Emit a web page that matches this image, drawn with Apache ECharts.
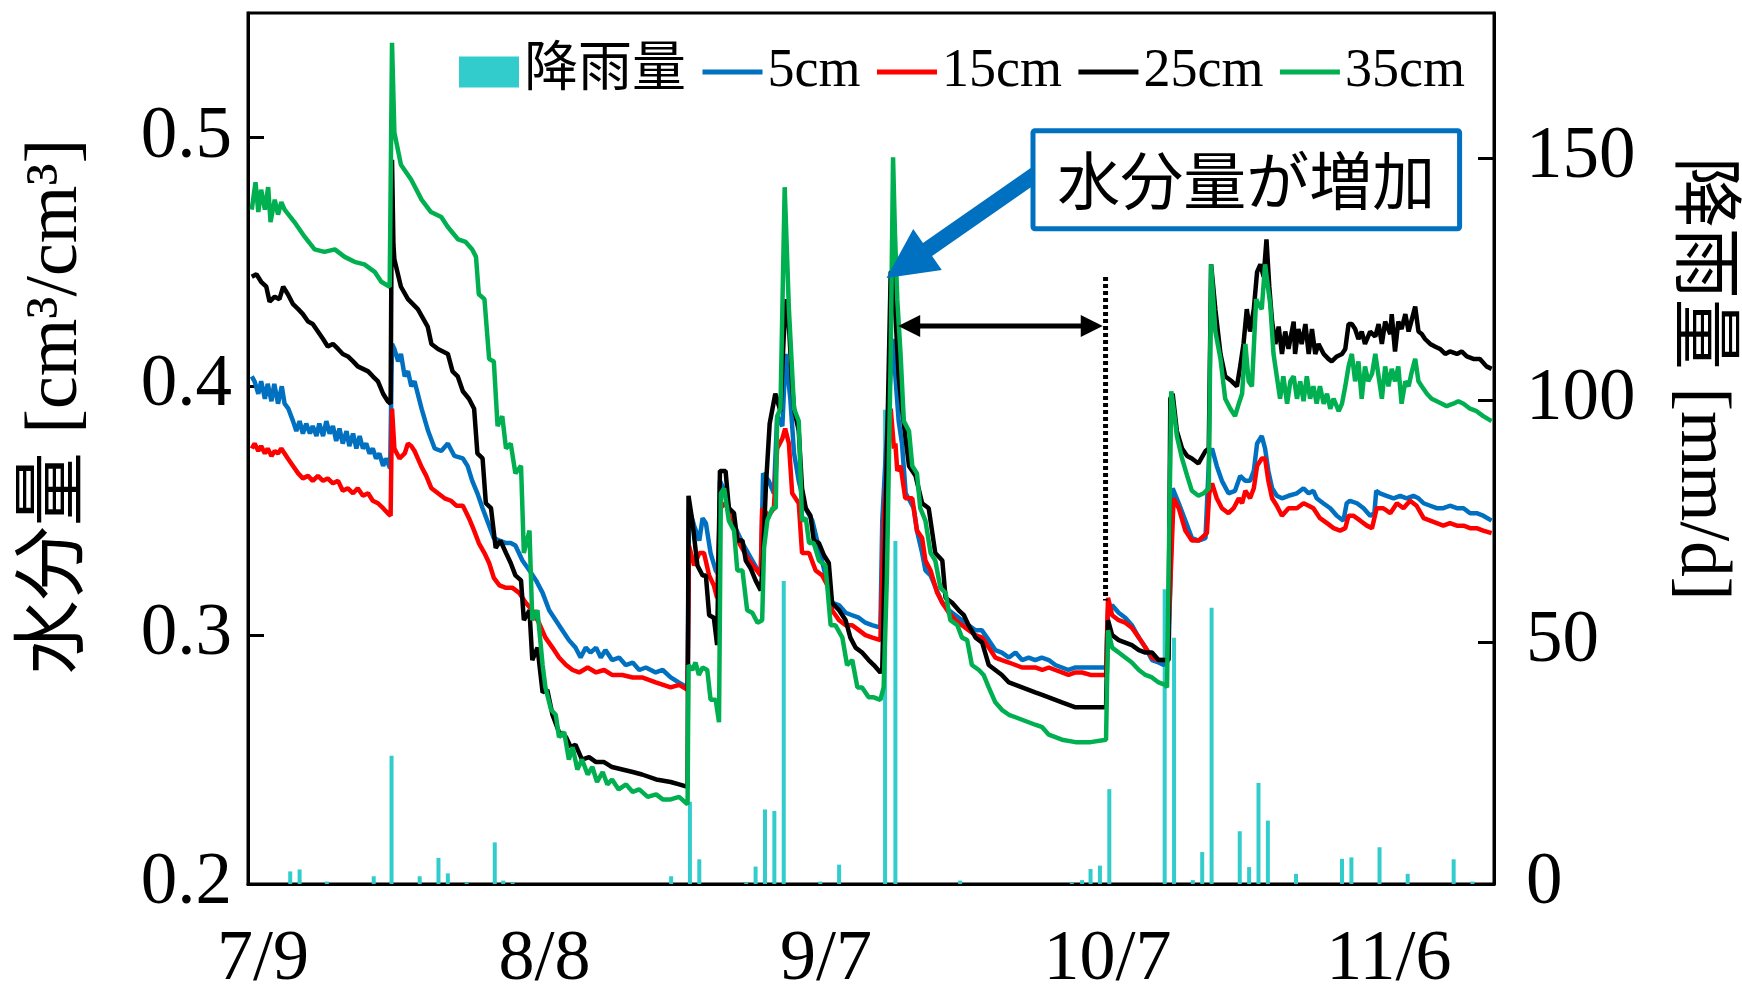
<!DOCTYPE html>
<html><head><meta charset="utf-8">
<script src="https://cdn.jsdelivr.net/npm/echarts@6/dist/echarts.min.js"></script>
<style>html,body{margin:0;padding:0;background:#fff}#c{width:1742px;height:989px}</style>
</head><body><div id="c"></div>
<script>
// ---- axis ticks / categories ----
const xTickDays = [0, 30, 60, 90, 120];
const xTickLabels = ['7/9', '8/8', '9/7', '10/7', '11/6'];
const seriesNames = ['降雨量', '5cm', '15cm', '25cm', '35cm'];

// ---- daily rainfall (day offset from 7/9, mm/d) ----
const rainDays = [2.9,3.9,6.8,11.8,13.7,16.7,18.7,19.7,21.7,24.7,25.6,26.6,43.5,45.5,46.5,51.5,52.5,53.5,54.5,55.5,59.4,61.4,66.3,67.4,74.3,86.2,87.3,88.2,89.2,90.2,96.1,97.1,99.1,100.1,101.1,104.1,105.1,106.1,107.1,110.1,115.0,116.0,119.0,122.0,126.9,128.9];
const rainValues = [2.6,3.0,0.5,1.6,26.5,1.6,5.4,2.2,0.3,8.6,0.7,0.3,1.6,17.0,5.1,0.3,3.6,15.4,15.1,62.6,0.5,4.0,98,70.9,0.7,0.3,0.8,3.1,3.8,19.6,60.9,50.9,0.8,6.6,57.1,10.9,3.5,20.9,13.1,2.1,5.2,5.5,7.6,2.1,5.1,0.5];

// ---- soil moisture [day, cm3/cm3] ----
const soil5cm = [[-1.2,0.404],[-0.9,0.402],[-0.5,0.397],[-0.2,0.402],[0.2,0.395],[0.5,0.401],[0.9,0.394],[1.2,0.401],[1.6,0.393],[2.0,0.400],[2.3,0.393],[2.7,0.391],[3.2,0.386],[3.55,0.382],[3.9,0.386],[4.25,0.381],[4.6,0.385],[5.0,0.381],[5.3,0.384],[5.7,0.380],[6.0,0.385],[6.4,0.380],[6.75,0.386],[7.1,0.381],[7.45,0.384],[7.8,0.378],[8.15,0.383],[8.5,0.377],[8.9,0.382],[9.2,0.376],[9.6,0.381],[9.95,0.375],[10.3,0.380],[10.65,0.375],[11.0,0.377],[11.35,0.373],[11.7,0.375],[12.05,0.371],[12.4,0.373],[12.8,0.368],[13.1,0.371],[13.55,0.367],[13.75,0.417],[14.0,0.415],[14.4,0.410],[14.7,0.413],[15.1,0.404],[15.45,0.406],[15.8,0.400],[16.15,0.402],[16.9,0.391],[17.6,0.382],[18.3,0.375],[19.0,0.374],[19.7,0.377],[20.4,0.372],[21.3,0.371],[21.8,0.368],[22.3,0.362],[22.85,0.357],[23.4,0.351],[24.1,0.344],[24.6,0.339],[25.2,0.338],[25.9,0.337],[26.4,0.337],[26.9,0.336],[27.65,0.330],[28.4,0.326],[29.1,0.322],[29.8,0.317],[30.5,0.310],[31.2,0.306],[31.9,0.302],[32.6,0.298],[33.3,0.295],[33.85,0.291],[34.4,0.295],[34.9,0.293],[35.5,0.295],[36.0,0.291],[36.5,0.294],[37.2,0.290],[37.95,0.291],[38.65,0.288],[39.4,0.289],[40.1,0.286],[40.8,0.287],[41.85,0.285],[42.6,0.286],[43.45,0.283],[44.3,0.281],[45.25,0.279],[45.4,0.351],[45.95,0.344],[46.5,0.338],[46.85,0.347],[47.2,0.345],[47.7,0.333],[48.25,0.326],[48.6,0.324],[48.7,0.362],[49.3,0.357],[50.0,0.346],[51.1,0.337],[52.15,0.330],[53.05,0.324],[53.3,0.365],[53.9,0.362],[54.45,0.357],[54.8,0.388],[55.35,0.384],[55.7,0.413],[56.2,0.395],[56.6,0.373],[57.1,0.362],[57.8,0.351],[58.55,0.346],[59.25,0.335],[59.95,0.324],[60.7,0.313],[61.4,0.312],[62.1,0.309],[62.8,0.308],[63.5,0.307],[64.2,0.305],[64.9,0.304],[65.8,0.303],[66.0,0.346],[66.35,0.371],[67.1,0.419],[67.4,0.404],[67.75,0.386],[68.1,0.377],[68.5,0.357],[68.8,0.355],[69.35,0.351],[69.7,0.342],[70.25,0.333],[70.6,0.326],[71.15,0.324],[71.7,0.319],[72.4,0.313],[73.1,0.310],[73.8,0.308],[74.5,0.306],[75.2,0.304],[75.9,0.302],[76.6,0.302],[77.35,0.298],[78.05,0.294],[78.75,0.293],[79.5,0.291],[80.2,0.293],[80.9,0.290],[81.6,0.291],[82.3,0.290],[83.0,0.291],[83.75,0.290],[84.45,0.288],[85.15,0.287],[85.85,0.286],[86.6,0.287],[87.3,0.287],[88.2,0.287],[89.85,0.287],[90.06,0.310],[90.5,0.312],[91.2,0.309],[91.9,0.307],[92.6,0.304],[93.35,0.299],[94.05,0.295],[94.75,0.290],[95.45,0.289],[96.0,0.288],[96.5,0.290],[96.95,0.359],[97.6,0.353],[98.3,0.346],[99.0,0.339],[99.7,0.338],[100.45,0.339],[100.85,0.373],[101.15,0.375],[101.65,0.368],[102.2,0.362],[102.9,0.357],[103.6,0.358],[104.15,0.364],[104.7,0.362],[105.2,0.362],[105.6,0.366],[105.95,0.377],[106.45,0.380],[106.8,0.375],[107.15,0.366],[107.55,0.359],[108.05,0.356],[108.6,0.355],[109.3,0.356],[110.2,0.357],[110.9,0.359],[111.45,0.357],[111.95,0.358],[112.3,0.355],[113.0,0.353],[113.75,0.351],[114.45,0.348],[115.15,0.346],[115.5,0.353],[115.85,0.354],[116.6,0.353],[117.3,0.351],[118.0,0.348],[118.45,0.349],[118.65,0.358],[119.05,0.357],[119.75,0.356],[120.5,0.355],[121.2,0.356],[121.9,0.355],[122.6,0.356],[123.15,0.355],[123.7,0.353],[124.4,0.352],[125.1,0.351],[125.8,0.351],[126.5,0.352],[127.25,0.351],[127.95,0.351],[128.65,0.349],[129.35,0.349],[130.05,0.348],[130.95,0.346]];

const soil15cm = [[-1.2,0.375],[-0.9,0.377],[-0.5,0.374],[-0.2,0.376],[0.2,0.373],[0.5,0.375],[0.9,0.372],[1.25,0.374],[1.6,0.373],[1.95,0.375],[2.3,0.373],[2.65,0.371],[3.2,0.368],[3.75,0.365],[4.25,0.363],[4.8,0.364],[5.3,0.362],[5.85,0.364],[6.4,0.362],[6.9,0.363],[7.45,0.361],[8.0,0.362],[8.5,0.358],[9.05,0.359],[9.6,0.357],[10.1,0.359],[10.65,0.356],[11.2,0.357],[11.7,0.354],[12.25,0.353],[12.8,0.351],[13.3,0.349],[13.6,0.348],[13.75,0.391],[14.0,0.375],[14.55,0.371],[15.1,0.373],[15.45,0.377],[15.8,0.376],[16.15,0.374],[16.5,0.371],[16.85,0.368],[17.4,0.364],[17.95,0.359],[18.65,0.357],[19.35,0.355],[20.05,0.354],[20.6,0.352],[21.3,0.352],[21.95,0.347],[22.5,0.342],[23.0,0.337],[23.6,0.333],[24.1,0.329],[24.6,0.323],[25.2,0.320],[25.9,0.319],[26.6,0.319],[27.3,0.317],[28.0,0.313],[28.7,0.310],[29.4,0.305],[30.1,0.299],[30.85,0.295],[31.55,0.291],[32.3,0.288],[33.0,0.286],[33.7,0.285],[34.6,0.287],[35.5,0.285],[36.35,0.286],[37.2,0.284],[38.3,0.284],[39.4,0.283],[40.4,0.283],[41.85,0.281],[43.45,0.279],[44.35,0.280],[45.25,0.278],[45.4,0.336],[45.95,0.328],[46.5,0.333],[47.0,0.333],[47.55,0.324],[48.05,0.320],[48.4,0.315],[48.7,0.351],[49.3,0.353],[50.0,0.348],[50.75,0.337],[51.8,0.330],[53.05,0.324],[53.2,0.351],[53.9,0.348],[54.45,0.351],[54.8,0.375],[55.35,0.379],[55.65,0.383],[56.05,0.377],[56.4,0.357],[57.1,0.353],[57.45,0.333],[58.2,0.333],[58.9,0.326],[59.6,0.324],[60.3,0.319],[60.65,0.310],[61.4,0.306],[62.1,0.304],[62.8,0.304],[63.5,0.302],[64.2,0.300],[64.95,0.299],[65.8,0.298],[66.0,0.324],[66.15,0.346],[66.9,0.391],[67.25,0.375],[67.4,0.377],[67.6,0.366],[67.95,0.368],[68.45,0.355],[69.2,0.355],[69.7,0.342],[70.25,0.339],[70.6,0.330],[71.15,0.326],[71.85,0.317],[72.4,0.313],[73.1,0.309],[73.8,0.306],[74.5,0.304],[75.2,0.302],[75.95,0.300],[76.65,0.299],[77.35,0.295],[78.05,0.291],[78.75,0.290],[79.5,0.289],[80.2,0.288],[80.9,0.287],[81.6,0.287],[82.3,0.287],[83.05,0.286],[83.75,0.287],[84.45,0.286],[85.15,0.285],[85.85,0.284],[86.6,0.285],[87.3,0.285],[88.2,0.284],[89.85,0.284],[90.06,0.315],[90.5,0.308],[91.2,0.306],[91.9,0.305],[92.6,0.303],[93.35,0.299],[94.05,0.295],[94.75,0.291],[95.45,0.290],[96.0,0.290],[96.4,0.290],[97.05,0.355],[97.6,0.351],[98.3,0.342],[99.0,0.338],[99.7,0.338],[100.6,0.341],[100.85,0.357],[101.15,0.361],[101.65,0.355],[102.2,0.351],[102.9,0.349],[103.45,0.351],[104.0,0.355],[104.35,0.353],[104.7,0.358],[105.2,0.355],[105.6,0.359],[105.95,0.368],[106.45,0.371],[106.8,0.371],[107.15,0.362],[107.55,0.355],[108.05,0.352],[108.6,0.348],[109.3,0.351],[110.2,0.351],[110.9,0.353],[111.45,0.352],[111.95,0.351],[112.65,0.347],[113.4,0.345],[114.1,0.343],[114.8,0.342],[115.35,0.343],[115.7,0.348],[116.2,0.348],[116.95,0.346],[117.65,0.344],[118.2,0.343],[118.7,0.351],[119.4,0.351],[120.15,0.349],[120.85,0.353],[121.55,0.351],[122.25,0.354],[122.95,0.352],[123.7,0.347],[124.4,0.346],[125.1,0.345],[125.8,0.344],[126.5,0.345],[127.25,0.344],[127.95,0.344],[128.65,0.343],[129.35,0.343],[130.05,0.342],[130.95,0.341]];

const soil25cm = [[-1.2,0.444],[-0.7,0.445],[-0.2,0.442],[0.35,0.440],[0.7,0.434],[1.25,0.436],[1.75,0.435],[2.15,0.440],[2.65,0.437],[3.2,0.433],[3.75,0.431],[4.25,0.429],[4.8,0.426],[5.3,0.425],[5.85,0.422],[6.4,0.419],[6.9,0.416],[7.45,0.417],[8.0,0.415],[8.5,0.413],[9.05,0.412],[9.6,0.410],[10.1,0.408],[10.65,0.407],[11.2,0.406],[11.7,0.404],[12.25,0.402],[12.8,0.397],[13.3,0.394],[13.6,0.393],[13.75,0.491],[13.9,0.457],[14.0,0.451],[14.7,0.440],[15.45,0.435],[16.5,0.431],[17.55,0.424],[17.95,0.417],[18.65,0.415],[19.7,0.413],[20.2,0.406],[20.75,0.404],[21.3,0.398],[21.95,0.395],[22.5,0.391],[22.85,0.373],[23.4,0.371],[23.75,0.353],[24.3,0.351],[24.8,0.335],[25.3,0.338],[25.9,0.333],[26.4,0.329],[26.9,0.324],[27.5,0.322],[27.8,0.306],[28.4,0.310],[28.7,0.290],[29.25,0.295],[29.8,0.277],[30.3,0.278],[30.85,0.268],[31.55,0.261],[32.3,0.259],[32.8,0.255],[33.3,0.256],[34.0,0.250],[34.75,0.251],[35.5,0.249],[36.35,0.249],[37.2,0.247],[38.3,0.246],[39.4,0.245],[40.4,0.244],[41.9,0.242],[43.45,0.241],[44.35,0.240],[45.25,0.239],[45.35,0.356],[45.75,0.346],[46.3,0.328],[46.85,0.324],[47.2,0.324],[47.55,0.308],[48.05,0.307],[48.4,0.296],[48.7,0.366],[49.3,0.366],[49.65,0.351],[50.2,0.349],[50.55,0.338],[51.1,0.338],[51.45,0.330],[51.95,0.327],[52.5,0.322],[53.05,0.318],[53.25,0.327],[53.6,0.360],[54.0,0.385],[54.6,0.397],[55.15,0.390],[55.5,0.420],[55.8,0.435],[56.05,0.425],[56.4,0.400],[56.6,0.391],[57.1,0.382],[57.45,0.359],[57.85,0.351],[58.35,0.348],[58.7,0.338],[59.25,0.337],[59.8,0.332],[60.3,0.329],[60.65,0.313],[61.4,0.310],[62.1,0.306],[62.6,0.299],[63.15,0.295],[63.85,0.293],[64.55,0.290],[65.1,0.288],[65.8,0.285],[66.0,0.286],[66.35,0.346],[66.9,0.446],[67.25,0.446],[67.4,0.429],[67.75,0.404],[68.1,0.391],[68.85,0.368],[69.55,0.364],[70.25,0.353],[70.95,0.351],[71.65,0.333],[72.4,0.330],[72.75,0.315],[73.45,0.313],[74.15,0.310],[74.7,0.308],[75.2,0.304],[75.95,0.299],[76.65,0.297],[77.35,0.288],[78.05,0.286],[78.75,0.284],[79.5,0.281],[80.2,0.280],[80.9,0.279],[81.6,0.278],[82.3,0.277],[83.05,0.276],[83.75,0.275],[84.45,0.274],[85.15,0.273],[86.6,0.271],[88.2,0.271],[89.85,0.271],[90.06,0.306],[90.5,0.300],[91.2,0.298],[91.9,0.297],[92.6,0.296],[93.35,0.294],[94.05,0.293],[94.75,0.293],[95.45,0.290],[96.5,0.290],[96.7,0.395],[96.95,0.397],[97.4,0.382],[97.95,0.375],[98.5,0.372],[99.0,0.371],[99.7,0.369],[100.45,0.374],[100.8,0.375],[101.05,0.449],[101.5,0.431],[102.05,0.413],[102.55,0.404],[103.25,0.402],[103.8,0.400],[104.15,0.408],[104.5,0.417],[104.85,0.431],[105.2,0.422],[105.6,0.431],[105.95,0.446],[106.3,0.449],[106.65,0.444],[106.95,0.459],[107.25,0.440],[107.55,0.426],[107.9,0.417],[108.25,0.424],[108.6,0.413],[108.95,0.422],[109.3,0.415],[109.85,0.426],[110.0,0.413],[110.35,0.423],[110.7,0.417],[111.1,0.425],[111.45,0.413],[111.8,0.423],[112.15,0.413],[112.5,0.417],[113.05,0.413],[113.55,0.411],[113.9,0.410],[114.45,0.412],[115.0,0.413],[115.35,0.415],[115.7,0.425],[116.05,0.425],[116.4,0.423],[116.75,0.419],[117.1,0.422],[117.45,0.417],[118.0,0.422],[118.55,0.420],[118.9,0.425],[119.25,0.417],[119.6,0.426],[120.15,0.421],[120.3,0.429],[120.65,0.414],[121.0,0.426],[121.35,0.423],[121.75,0.429],[122.1,0.422],[122.45,0.427],[122.8,0.432],[123.15,0.422],[123.5,0.421],[123.85,0.419],[124.4,0.417],[124.9,0.416],[125.45,0.415],[126.0,0.413],[126.5,0.414],[127.25,0.413],[127.75,0.414],[128.3,0.412],[129.0,0.411],[129.7,0.411],[130.4,0.408],[130.95,0.407]];

const soil35cm = [[-1.2,0.471],[-0.8,0.482],[-0.5,0.470],[-0.2,0.479],[0.2,0.471],[0.55,0.480],[0.8,0.466],[1.25,0.475],[1.6,0.469],[1.95,0.474],[2.3,0.471],[3.35,0.466],[4.45,0.460],[5.5,0.455],[6.55,0.454],[7.65,0.455],[8.7,0.452],[9.75,0.450],[10.8,0.449],[11.9,0.446],[12.6,0.442],[13.5,0.440],[13.6,0.440],[13.75,0.538],[14.0,0.502],[14.7,0.489],[15.8,0.483],[16.9,0.475],[17.9,0.470],[19.0,0.468],[19.7,0.464],[20.8,0.459],[21.6,0.458],[22.3,0.455],[22.7,0.452],[23.0,0.437],[23.6,0.435],[24.1,0.411],[24.6,0.410],[25.0,0.384],[25.5,0.388],[25.9,0.375],[26.4,0.377],[26.9,0.365],[27.5,0.368],[27.8,0.333],[28.4,0.342],[28.7,0.306],[29.25,0.310],[29.8,0.288],[30.1,0.279],[30.7,0.270],[31.2,0.268],[31.55,0.259],[32.1,0.261],[32.6,0.250],[33.0,0.255],[33.5,0.246],[34.0,0.250],[34.6,0.244],[35.1,0.247],[35.6,0.241],[36.2,0.245],[36.7,0.240],[37.2,0.242],[37.9,0.238],[38.7,0.240],[39.4,0.237],[40.1,0.238],[41.0,0.235],[41.9,0.236],[42.6,0.234],[43.45,0.234],[44.35,0.235],[45.25,0.232],[45.35,0.288],[45.75,0.286],[46.1,0.289],[46.45,0.284],[46.85,0.287],[47.35,0.286],[47.7,0.274],[48.25,0.274],[48.6,0.265],[48.8,0.357],[49.15,0.359],[49.65,0.346],[50.2,0.342],[50.55,0.326],[51.1,0.326],[51.6,0.310],[52.15,0.309],[52.7,0.305],[53.2,0.306],[53.4,0.335],[53.75,0.346],[54.3,0.351],[54.65,0.351],[54.8,0.388],[55.15,0.391],[55.6,0.480],[56.05,0.431],[56.6,0.391],[57.1,0.386],[57.45,0.346],[57.85,0.347],[58.2,0.337],[58.7,0.337],[59.25,0.330],[59.95,0.328],[60.5,0.304],[61.0,0.304],[61.75,0.299],[62.25,0.288],[62.8,0.290],[63.35,0.279],[63.85,0.279],[64.55,0.275],[65.1,0.275],[65.8,0.274],[66.15,0.279],[66.5,0.324],[66.9,0.413],[67.15,0.492],[67.35,0.462],[67.6,0.435],[67.95,0.413],[68.3,0.386],[68.85,0.382],[69.2,0.368],[69.7,0.365],[70.05,0.351],[70.6,0.346],[71.15,0.333],[71.65,0.330],[72.2,0.319],[72.75,0.317],[73.25,0.306],[74.0,0.304],[74.5,0.299],[75.05,0.298],[75.55,0.288],[76.3,0.286],[76.8,0.284],[77.35,0.279],[78.05,0.273],[78.75,0.270],[79.5,0.268],[80.2,0.267],[80.9,0.266],[81.6,0.265],[82.3,0.264],[83.05,0.263],[83.75,0.260],[84.45,0.259],[85.15,0.258],[86.6,0.257],[88.2,0.257],[89.85,0.258],[90.06,0.302],[90.5,0.295],[91.2,0.293],[91.9,0.291],[92.6,0.289],[93.35,0.286],[94.05,0.284],[94.75,0.283],[95.45,0.281],[96.15,0.280],[96.35,0.279],[96.8,0.398],[97.05,0.391],[97.4,0.380],[97.95,0.371],[98.5,0.364],[99.0,0.358],[99.7,0.356],[100.25,0.357],[100.8,0.359],[101.05,0.449],[101.5,0.422],[102.05,0.411],[102.55,0.395],[103.1,0.391],[103.6,0.388],[104.0,0.393],[104.35,0.397],[104.7,0.417],[105.05,0.402],[105.4,0.400],[105.85,0.435],[106.1,0.433],[106.45,0.431],[106.8,0.449],[107.1,0.440],[107.35,0.433],[107.7,0.413],[108.05,0.404],[108.4,0.395],[108.75,0.404],[109.15,0.393],[109.5,0.402],[109.85,0.404],[110.2,0.395],[110.55,0.402],[110.9,0.394],[111.25,0.404],[111.6,0.395],[111.95,0.400],[112.3,0.393],[112.65,0.400],[113.05,0.393],[113.4,0.397],[113.75,0.391],[114.1,0.395],[114.65,0.390],[115.0,0.393],[115.35,0.400],[115.7,0.408],[116.05,0.413],[116.4,0.402],[116.75,0.410],[117.1,0.395],[117.45,0.408],[117.8,0.402],[118.2,0.405],[118.55,0.413],[118.9,0.404],[119.25,0.395],[119.6,0.408],[119.95,0.400],[120.3,0.407],[120.65,0.402],[121.0,0.408],[121.35,0.393],[121.75,0.402],[122.1,0.400],[122.45,0.406],[122.8,0.411],[123.15,0.402],[123.5,0.400],[124.05,0.397],[124.55,0.395],[125.1,0.394],[125.65,0.393],[126.15,0.392],[126.85,0.393],[127.4,0.394],[127.95,0.393],[128.65,0.391],[129.35,0.390],[130.05,0.388],[130.95,0.386]];

const SERIF = "'Liberation Serif','Times New Roman','Noto Sans CJK JP',serif";
const JP = "'Noto Sans CJK JP','Noto Sans CJK SC',sans-serif";
const lineColors = ['#0070C0', '#FF0000', '#000000', '#00B050'];
const soilData = [soil5cm, soil15cm, soil25cm, soil35cm];
const LINE_ICON = 'path://M0,0 L60,0 L60,5 L0,5 Z';

const chart = echarts.init(document.getElementById('c'), null, {renderer: 'canvas'});

const option = {
  animation: false,
  backgroundColor: '#ffffff',
  textStyle: {fontFamily: SERIF, color: '#000'},
  grid: {left: 248, right: 248, top: 13, bottom: 105, show: true, borderColor: '#000', borderWidth: 3,
    containLabel: false, outerBoundsMode: 'none'},
  legend: {
    left: 454, top: 40, itemWidth: 60, itemHeight: 31, itemGap: 16.5, selectedMode: false,
    textStyle: {fontSize: 54, fontFamily: SERIF, color: '#000'},
    data: [{name: seriesNames[0], icon: 'rect'}].concat(seriesNames.slice(1).map(function (n) {
      return {name: n, icon: LINE_ICON};
    }))
  },
  xAxis: {
    type: 'value', min: -1.6, max: 131.2,
    axisLine: {show: true, onZero: false, lineStyle: {color: '#000', width: 3}},
    axisTick: {show: false},
    splitLine: {show: false},
    axisLabel: {
      customValues: xTickDays,
      formatter: function (v) { const i = xTickDays.indexOf(Math.round(v)); return i >= 0 ? xTickLabels[i] : ''; },
      color: '#000', fontSize: 72, fontFamily: SERIF, margin: 40
    }
  },
  yAxis: [
    {
      type: 'value', min: 0.2, max: 0.55, interval: 0.1, position: 'left',
      name: '水分量 [cm³/cm³]', nameLocation: 'middle', nameGap: 154,
      nameTextStyle: {fontSize: 74, fontFamily: SERIF, color: '#000', padding: [0, 0, 0, 84]},
      axisLine: {show: true, onZero: false, lineStyle: {color: '#000', width: 3}},
      axisTick: {show: true, inside: true, length: 16, lineStyle: {color: '#000', width: 3}},
      axisLabel: {showMaxLabel: false, formatter: function (v) { return v.toFixed(1); }, color: '#000', fontSize: 73, fontFamily: SERIF, margin: 16},
      splitLine: {show: false}
    },
    {
      type: 'value', min: 0, max: 180, interval: 50, position: 'right',
      name: '降雨量 [mm/d]', nameLocation: 'middle', nameGap: 171, nameRotate: -90,
      nameTextStyle: {fontSize: 71, fontFamily: SERIF, color: '#000', padding: [0, 140, 0, 0]},
      axisLine: {show: true, onZero: false, lineStyle: {color: '#000', width: 3}},
      axisTick: {show: true, inside: true, length: 16, lineStyle: {color: '#000', width: 3}},
      axisLabel: {showMaxLabel: false, color: '#000', fontSize: 73, fontFamily: SERIF, margin: 32},
      splitLine: {show: false}
    }
  ],
  series: [
    {
      name: seriesNames[0], type: 'bar', xAxisIndex: 0, yAxisIndex: 1, barWidth: 4, z: 1,
      itemStyle: {color: '#33CCCC'},
      data: rainDays.map(function (d, i) { return [d, rainValues[i]]; })
    }
  ].concat(soilData.map(function (arr, k) {
    return {
      name: seriesNames[k + 1], type: 'line', xAxisIndex: 0, yAxisIndex: 0, z: 2 + k,
      symbol: 'none', showSymbol: false, smooth: false,
      lineStyle: {color: lineColors[k], width: 4.5},
      itemStyle: {color: lineColors[k]},
      data: arr
    };
  }))
};
chart.setOption(option);

// ---- annotations (anchored in data coordinates) ----
const noteText = '水分量が増加';
function px(d, v) { return chart.convertToPixel({xAxisIndex: 0, yAxisIndex: 0}, [d, v]); }
function arrowPoly(tip, tail, headLen, headHalf, shaftHalf) {
  const dx = tail[0] - tip[0], dy = tail[1] - tip[1];
  const L = Math.sqrt(dx * dx + dy * dy);
  const ux = dx / L, uy = dy / L, nx = -uy, ny = ux;
  const bx = tip[0] + ux * headLen, by = tip[1] + uy * headLen;
  return [
    [tip[0], tip[1]],
    [bx + nx * headHalf, by + ny * headHalf],
    [bx + nx * shaftHalf, by + ny * shaftHalf],
    [tail[0] + nx * shaftHalf, tail[1] + ny * shaftHalf],
    [tail[0] - nx * shaftHalf, tail[1] - ny * shaftHalf],
    [bx - nx * shaftHalf, by - ny * shaftHalf],
    [bx - nx * headHalf, by - ny * headHalf]
  ];
}
function headPoly(tip, dir, len, half) {
  return [[tip[0], tip[1]], [tip[0] + dir * len, tip[1] - half], [tip[0] + dir * len, tip[1] + half]];
}
const bTL = px(81.8, 0.5037), bBR = px(127.8, 0.4623);
const aTip = px(66.45, 0.4435), aTail = px(82.5, 0.4856);
const hL = px(67.7, 0.4242), hR = px(89.5, 0.4242);
const dTop = px(89.8, 0.4439), dBot = px(89.8, 0.3139);

chart.setOption({
  graphic: [
    {type: 'polygon', z: 100, shape: {points: arrowPoly(aTip, aTail, 50, 25, 8)}, style: {fill: '#0070C0'}},
    {type: 'rect', z: 101, shape: {x: bTL[0] + 2.5, y: bTL[1] + 2.5, width: bBR[0] - bTL[0] - 5, height: bBR[1] - bTL[1] - 5, r: 2},
      style: {fill: '#ffffff', stroke: '#0070C0', lineWidth: 5}},
    {type: 'text', z: 102, x: (bTL[0] + bBR[0]) / 2, y: (bTL[1] + bBR[1]) / 2,
      style: {text: noteText, fontSize: 63, fontFamily: JP, fill: '#000', align: 'center', verticalAlign: 'middle'}},
    {type: 'line', z: 100, shape: {x1: dTop[0], y1: dTop[1], x2: dBot[0], y2: dBot[1]}, style: {stroke: '#000', lineWidth: 5, lineDash: [4, 3]}},
    {type: 'line', z: 100, shape: {x1: hL[0] + 10, y1: hL[1], x2: hR[0] - 10, y2: hR[1]}, style: {stroke: '#000', lineWidth: 5}},
    {type: 'polygon', z: 100, shape: {points: headPoly(hL, 1, 22, 11)}, style: {fill: '#000'}},
    {type: 'polygon', z: 100, shape: {points: headPoly(hR, -1, 22, 11)}, style: {fill: '#000'}}
  ]
});
</script>
</body></html>
